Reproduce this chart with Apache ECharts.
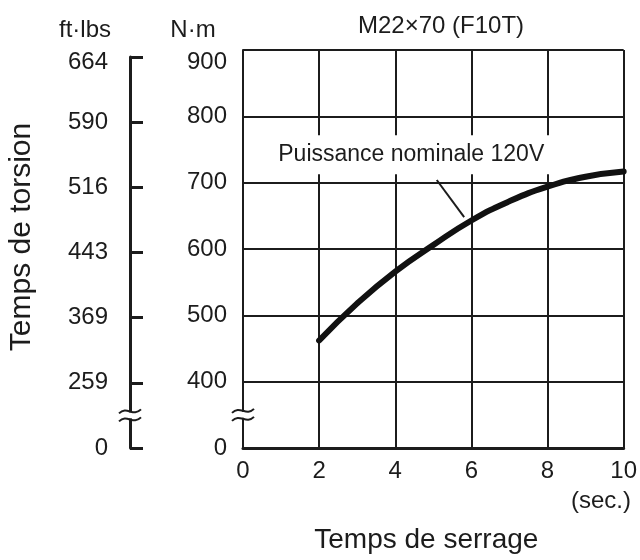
<!DOCTYPE html>
<html>
<head>
<meta charset="utf-8">
<script src="https://cdn.jsdelivr.net/npm/echarts@6/dist/echarts.min.js"></script>
<style>
  html, body { margin: 0; padding: 0; background: #fff; }
  #chart { width: 640px; height: 560px; }
</style>
</head>
<body>
<div id="chart"></div>
<script>
// tick labels of the two torque scales (same levels, axis broken between 0 and 400 N·m)
const nmLabels = ['0', '400', '500', '600', '700', '800', '900']
const ftLabels = ['0', '259', '369', '443', '516', '590', '664']

// curve "Puissance nominale 120V"
const timeSec = [2, 3, 4, 5, 6, 7, 8, 9, 10]
const torqueNm = [462, 518, 566, 606, 643, 672, 694, 709, 717]

// annotation (time, N·m)
const noteText = 'Puissance nominale 120V'
const noteAt = [4.42, 742]
const leaderFrom = [5.09, 704]
const leaderTo = [5.81, 648]

// broken axis: 0 -> slot 0, 400..900 -> slots 1..6
const toSlot = v => v >= 400 ? (v - 300) / 100 : v / 400

const FONT = 'Liberation Sans'
const INK = '#1c1c1c'

var dom = document.getElementById('chart')
var myChart = echarts.init(dom)

var option = {
  animation: false,
  textStyle: { fontFamily: FONT, color: INK },
  title: {
    text: 'M22×70 (F10T)',
    left: 436,
    top: 9,
    textAlign: 'center',
    textStyle: { fontFamily: FONT, fontSize: 24, fontWeight: 'normal', color: INK }
  },
  grid: [
    { left: 243, right: 10, top: 50, bottom: 112 },
    { left: 130, width: 1, top: 57, bottom: 112 }
  ],
  xAxis: [
    {
      gridIndex: 0,
      type: 'value',
      min: 0,
      max: 10,
      interval: 2,
      axisLine: { lineStyle: { color: INK, width: 3 } },
      axisTick: { show: false },
      axisLabel: { fontSize: 24, color: INK, margin: 11, fontFamily: FONT },
      splitLine: { show: true, lineStyle: { color: INK, width: 2 } },
      name: 'Temps de serrage',
      nameLocation: 'middle',
      nameGap: 78,
      nameTextStyle: { fontSize: 28, color: INK, fontFamily: FONT, padding: [0, 14, 0, 0] }
    },
    { gridIndex: 1, type: 'value', min: 0, max: 1, show: false }
  ],
  yAxis: [
    {
      gridIndex: 0,
      type: 'value',
      min: 0,
      max: 6,
      interval: 1,
      axisLine: { show: true, lineStyle: { color: INK, width: 2 } },
      axisTick: { show: false },
      axisLabel: {
        fontSize: 24, color: INK, margin: 16, fontFamily: FONT,
        verticalAlignMaxLabel: 'top',
        formatter: v => nmLabels[v]
      },
      splitLine: { show: true, lineStyle: { color: INK, width: 2 } }
    },
    {
      gridIndex: 1,
      type: 'value',
      min: 0,
      max: 6,
      interval: 1,
      position: 'left',
      axisLine: { show: true, lineStyle: { color: INK, width: 3 } },
      axisTick: { show: true, inside: true, length: 13, lineStyle: { color: INK, width: 3 } },
      axisLabel: {
        fontSize: 24, color: INK, margin: 22, fontFamily: FONT,
        // top label sits a little below its tick in the reference
        formatter: v => v === 6 ? '{top|' + ftLabels[v] + '}' : ftLabels[v],
        rich: { top: { fontSize: 24, fontFamily: FONT, color: INK, padding: [10, 0, 0, 0] } }
      },
      splitLine: { show: false }
    }
  ],
  series: [{
    type: 'line',
    xAxisIndex: 0,
    yAxisIndex: 0,
    data: timeSec.map((t, i) => [t, toSlot(torqueNm[i])]),
    smooth: 0.5,
    symbol: 'none',
    lineStyle: { color: '#111', width: 6, cap: 'round' },
    z: 3,
    markPoint: {
      silent: true,
      symbol: 'circle',
      symbolSize: 1,
      itemStyle: { color: 'rgba(0,0,0,0)' },
      label: {
        show: true,
        position: 'inside',
        formatter: noteText,
        fontFamily: FONT,
        fontSize: 23,
        color: INK,
        backgroundColor: '#fff',
        padding: [8, 6]
      },
      data: [{ coord: [noteAt[0], toSlot(noteAt[1])] }]
    },
    markLine: {
      silent: true,
      symbol: 'none',
      label: { show: false },
      lineStyle: { color: INK, width: 2, type: 'solid' },
      data: [[
        { coord: [leaderFrom[0], toSlot(leaderFrom[1])] },
        { coord: [leaderTo[0], toSlot(leaderTo[1])] }
      ]]
    }
  }]
}
myChart.setOption(option)

// break marks on both torque axes, between 0 and 400
const breakMark = (x, y) => {
  const w = 11
  const wave = dy => ({
    type: 'bezierCurve',
    shape: { x1: x - w, y1: y + dy + 2, cpx1: x - 3, cpy1: y + dy - 6, cpx2: x + 3, cpy2: y + dy + 6, x2: x + w, y2: y + dy - 2 },
    style: { stroke: INK, lineWidth: 2, fill: null },
    z: 100
  })
  return [
    { type: 'rect', shape: { x: x - 3, y: y - 3, width: 6, height: 6 }, style: { fill: '#fff' }, z: 99 },
    wave(-4),
    wave(4)
  ]
}
const yBreak = myChart.convertToPixel({ yAxisIndex: 0 }, 0.5)
const xMain = myChart.convertToPixel({ xAxisIndex: 0 }, 0)
const yBreakFt = myChart.convertToPixel({ yAxisIndex: 1 }, 0.5)

const txt = (text, x, y, size, extra) => Object.assign({
  type: 'text',
  x: x,
  y: y,
  style: { text: text, fontFamily: FONT, fontSize: size, fill: INK, align: 'center', verticalAlign: 'middle' },
  z: 100
}, extra || {})

myChart.setOption({
  graphic: [].concat(
    breakMark(xMain, yBreak),
    breakMark(130, yBreakFt),
    [
      txt('ft·lbs', 85, 30, 24),
      txt('N·m', 193, 30, 24),
      txt('(sec.)', 601, 501, 24),
      txt('Temps de torsion', 22, 237, 30, { rotation: Math.PI / 2 })
    ]
  )
})
</script>
</body>
</html>
